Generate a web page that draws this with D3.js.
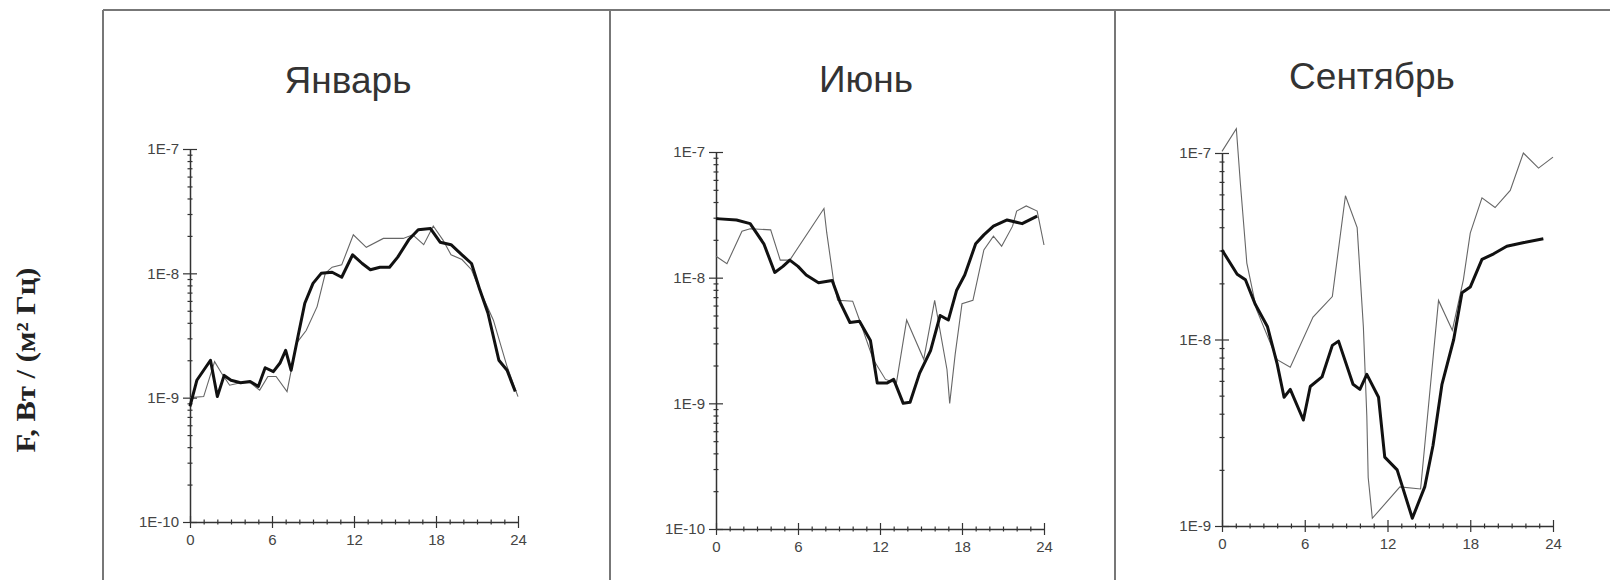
<!DOCTYPE html>
<html>
<head>
<meta charset="utf-8">
<script src="https://cdn.jsdelivr.net/npm/d3@7"></script>
<style>
  body { margin: 0; background: #fff; }
  svg { display: block; }
</style>
</head>
<body>
<script>
// flux F, W/(m^2 Hz) vs hour of day; [hour, value]
const months = ['Январь', 'Июнь', 'Сентябрь']
const hourTicks = [0, 6, 12, 18, 24]
const yLabel = 'F, Вт / (м² Гц)'

const janThick = [
  [0, 8.5e-10], [0.5, 1.38e-9], [1.5, 2.0e-9], [2, 1.02e-9], [2.5, 1.51e-9], [3, 1.38e-9],
  [3.7, 1.32e-9], [4.4, 1.35e-9], [5, 1.23e-9], [5.5, 1.74e-9], [6.1, 1.62e-9], [6.6, 1.91e-9],
  [7, 2.4e-9], [7.4, 1.66e-9], [7.9, 3.1e-9], [8.4, 5.75e-9], [9, 8.3e-9], [9.6, 1.0e-8],
  [10.4, 1.02e-8], [11.1, 9.3e-9], [11.9, 1.41e-8], [12.6, 1.2e-8], [13.2, 1.07e-8], [13.9, 1.12e-8],
  [14.6, 1.12e-8], [15.2, 1.35e-8], [16, 1.86e-8], [16.7, 2.24e-8], [17.6, 2.29e-8], [18.3, 1.78e-8],
  [19.1, 1.7e-8], [19.9, 1.41e-8], [20.6, 1.2e-8], [21.2, 7.4e-9], [21.8, 4.8e-9], [22.6, 2.0e-9],
  [23.2, 1.66e-9], [23.8, 1.12e-9]
]
const janThin = [
  [0, 1.0e-9], [1, 1.02e-9], [1.8, 1.95e-9], [2.3, 1.58e-9], [2.9, 1.26e-9], [3.7, 1.32e-9],
  [4.4, 1.32e-9], [5.1, 1.15e-9], [5.7, 1.48e-9], [6.3, 1.48e-9], [7.1, 1.12e-9], [7.8, 2.75e-9],
  [8.5, 3.47e-9], [9.3, 5.4e-9], [9.9, 1.0e-8], [10.4, 1.12e-8], [11.1, 1.17e-8], [11.95, 2.04e-8],
  [12.9, 1.62e-8], [14.15, 1.91e-8], [15.6, 1.91e-8], [16.3, 2.04e-8], [17.1, 1.7e-8], [17.8, 2.4e-8],
  [18.5, 1.86e-8], [19.1, 1.41e-8], [19.9, 1.29e-8], [20.6, 1.07e-8], [21.1, 7.8e-9], [22.2, 4.2e-9],
  [23.2, 1.78e-9], [24, 1.02e-9]
]

const junThick = [
  [0, 2.95e-8], [1.5, 2.88e-8], [2.5, 2.69e-8], [3.5, 1.86e-8], [4.3, 1.1e-8], [4.9, 1.23e-8],
  [5.4, 1.38e-8], [6, 1.23e-8], [6.6, 1.05e-8], [7.5, 9.1e-9], [8.5, 9.5e-9], [9.1, 6.3e-9],
  [9.8, 4.4e-9], [10.5, 4.5e-9], [11.3, 3.16e-9], [11.8, 1.45e-9], [12.5, 1.45e-9], [13, 1.55e-9],
  [13.7, 1.0e-9], [14.2, 1.02e-9], [14.9, 1.74e-9], [15.7, 2.63e-9], [16.4, 5.0e-9], [17, 4.6e-9],
  [17.6, 7.9e-9], [18.2, 1.05e-8], [19, 1.86e-8], [19.6, 2.19e-8], [20.3, 2.57e-8], [21.3, 2.88e-8],
  [22.4, 2.69e-8], [23.5, 3.09e-8]
]
const junThin = [
  [0, 1.48e-8], [0.8, 1.29e-8], [1.9, 2.34e-8], [2.5, 2.45e-8], [4, 2.4e-8], [4.7, 1.38e-8],
  [5.4, 1.38e-8], [7.9, 3.55e-8], [8.1, 2.29e-8], [8.6, 9.5e-9], [8.9, 6.6e-9], [10, 6.5e-9],
  [10.5, 4.6e-9], [11.5, 2.24e-9], [12.4, 1.55e-9], [13.2, 1.45e-9], [13.95, 4.6e-9], [15.2, 2.24e-9],
  [16, 6.6e-9], [16.9, 1.86e-9], [17.1, 1.0e-9], [17.5, 2.45e-9], [18, 6.2e-9], [18.8, 6.6e-9],
  [19.6, 1.66e-8], [20.3, 2.14e-8], [20.9, 1.78e-8], [21.7, 2.57e-8], [22, 3.39e-8], [22.7, 3.72e-8],
  [23.5, 3.39e-8], [24, 1.82e-8]
]

const sepThick = [
  [0, 3.02e-8], [1.1, 2.24e-8], [1.7, 2.09e-8], [2.4, 1.55e-8], [3.3, 1.17e-8], [4, 7.4e-9],
  [4.5, 4.9e-9], [4.95, 5.4e-9], [5.9, 3.7e-9], [6.4, 5.6e-9], [7.25, 6.3e-9], [8, 9.3e-9],
  [8.45, 9.8e-9], [9.5, 5.75e-9], [10, 5.4e-9], [10.5, 6.5e-9], [11.35, 4.9e-9], [11.8, 2.34e-9],
  [12.7, 2.0e-9], [13.8, 1.1e-9], [14.7, 1.62e-9], [15.3, 2.7e-9], [15.95, 5.75e-9], [16.8, 1.0e-8],
  [17.4, 1.78e-8], [18, 1.91e-8], [18.85, 2.69e-8], [19.7, 2.88e-8], [20.65, 3.16e-8], [21.9, 3.31e-8],
  [23.3, 3.47e-8]
]
const sepThin = [
  [0, 1.02e-7], [1.04, 1.35e-7], [1.33, 6.9e-8], [1.8, 2.57e-8], [2.5, 1.45e-8], [4, 7.8e-9],
  [4.95, 7.1e-9], [6.6, 1.32e-8], [8, 1.7e-8], [8.95, 5.9e-8], [9.8, 3.98e-8], [10.25, 1.17e-8],
  [10.5, 3.9e-9], [10.6, 1.82e-9], [10.9, 1.1e-9], [12.9, 1.62e-9], [14.4, 1.58e-9], [15.7, 1.62e-8],
  [16.7, 1.12e-8], [17.5, 2.09e-8], [18, 3.72e-8], [18.85, 5.75e-8], [19.8, 5.1e-8], [20.9, 6.3e-8],
  [21.85, 1.0e-7], [22.95, 8.3e-8], [24, 9.5e-8]
]

const decadesWide = [1e-10, 1e-9, 1e-8, 1e-7]
const decadesNarrow = [1e-9, 1e-8, 1e-7]

// layout only
const width = 1610
const height = 580
const panels = [
  { title: months[0], thick: janThick, thin: janThin, decades: decadesWide,
    left: 190, right: 518, top: 149, bottom: 522, titleX: 348, titleY: 93 },
  { title: months[1], thick: junThick, thin: junThin, decades: decadesWide,
    left: 716, right: 1044, top: 152, bottom: 529, titleX: 866, titleY: 92 },
  { title: months[2], thick: sepThick, thin: sepThin, decades: decadesNarrow,
    left: 1222, right: 1553, top: 153, bottom: 526, titleX: 1372, titleY: 89 }
]

const svg = d3.select('body')
  .append('svg')
  .attr('width', width)
  .attr('height', height)
  .style('background-color', 'white')

// frame round the three panels
const frame = svg.append('g')
  .attr('stroke', '#777')
  .attr('stroke-width', 2)
frame.append('line').attr('x1', 103).attr('y1', 10).attr('x2', width).attr('y2', 10)
;[103, 610, 1115].forEach(x => {
  frame.append('line').attr('x1', x).attr('y1', 10).attr('x2', x).attr('y2', height)
})

svg.append('text')
  .attr('transform', 'translate(35, 360) rotate(-90)')
  .attr('text-anchor', 'middle')
  .attr('textLength', 185)
  .attr('lengthAdjust', 'spacingAndGlyphs')
  .style('font-family', '"Liberation Serif", "DejaVu Serif", serif')
  .style('font-weight', 'bold')
  .style('font-size', '27px')
  .style('fill', '#222')
  .text(yLabel)

const expFormat = d => '1E' + Math.round(Math.log10(d))

function drawPanel(p) {
  const g = svg.append('g')

  let x = d3.scaleLinear().domain([0, 24]).range([p.left, p.right])
  let y = d3.scaleLog().domain([p.decades[0], p.decades[p.decades.length - 1]]).range([p.bottom, p.top])

  g.append('text')
    .attr('x', p.titleX)
    .attr('y', p.titleY)
    .attr('text-anchor', 'middle')
    .style('font-family', '"Liberation Sans", Arial, sans-serif')
    .style('font-size', '37px')
    .style('fill', '#333')
    .text(p.title)

  // minor ticks: every hour, and 2..9 inside each decade
  let minorHours = d3.range(0, 25).filter(h => h % 6 !== 0)
  let minorFlux = []
  p.decades.slice(0, -1).forEach(dec => {
    for (let k = 2; k <= 9; k++) minorFlux.push(dec * k)
  })

  g.append('g')
    .attr('transform', 'translate(0, ' + p.bottom + ')')
    .call(d3.axisBottom(x).tickValues(minorHours).tickSize(2.5).tickSizeOuter(0).tickFormat(''))
    .call(a => a.select('.domain').remove())
    .call(a => a.selectAll('.tick line').attr('y1', -2.5))
  g.append('g')
    .attr('transform', 'translate(' + p.left + ', 0)')
    .call(d3.axisLeft(y).tickValues(minorFlux).tickSize(2.5).tickSizeOuter(0).tickFormat(''))
    .call(a => a.select('.domain').remove())
    .call(a => a.selectAll('.tick line').attr('x1', 2.5))

  let xAxis = g.append('g')
    .attr('transform', 'translate(0, ' + p.bottom + ')')
    .call(d3.axisBottom(x).tickValues(hourTicks).tickSize(6).tickSizeOuter(0).tickPadding(6).tickFormat(d3.format('d')))
  xAxis.selectAll('.tick line').attr('y1', -6)

  let yAxis = g.append('g')
    .attr('transform', 'translate(' + p.left + ', 0)')
    .call(d3.axisLeft(y).tickValues(p.decades).tickSize(7).tickSizeOuter(0).tickPadding(4).tickFormat(expFormat))
  yAxis.selectAll('.tick line').attr('x1', 7)

  g.selectAll('.domain').attr('stroke', '#333').attr('stroke-width', 1.5)
  g.selectAll('.tick line').attr('stroke', '#333').attr('stroke-width', 1.2)
  g.selectAll('.tick text')
    .style('font-family', '"Liberation Sans", Arial, sans-serif')
    .style('font-size', '15px')
    .style('fill', '#444')

  let line = d3.line()
    .x(d => x(d[0]))
    .y(d => y(d[1]))

  g.append('path')
    .datum(p.thin)
    .attr('d', line)
    .attr('fill', 'none')
    .attr('stroke', '#666')
    .attr('stroke-width', 1.1)

  g.append('path')
    .datum(p.thick)
    .attr('d', line)
    .attr('fill', 'none')
    .attr('stroke', '#111')
    .attr('stroke-width', 3)
    .attr('stroke-linejoin', 'round')
}

panels.forEach(drawPanel)
</script>
</body>
</html>
